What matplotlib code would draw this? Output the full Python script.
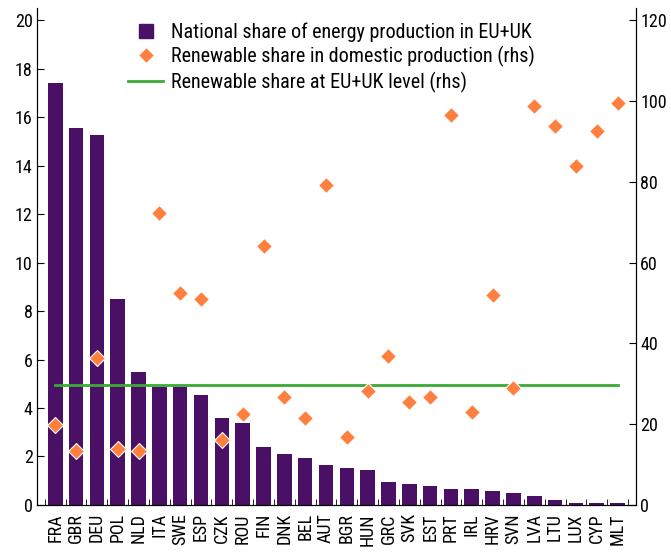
import matplotlib
matplotlib.use("Agg")
import matplotlib.pyplot as plt
from matplotlib.lines import Line2D
import numpy as np

plt.rcParams['font.family'] = ['Liberation Sans Narrow', 'DejaVu Sans Condensed',
                               'Roboto Condensed', 'Liberation Sans']
plt.rcParams['font.stretch'] = 'condensed'

countries = ["FRA", "GBR", "DEU", "POL", "NLD", "ITA", "SWE", "ESP", "CZK", "ROU",
             "FIN", "DNK", "BEL", "AUT", "BGR", "HUN", "GRC", "SVK", "EST", "PRT",
             "IRL", "HRV", "SVN", "LVA", "LTU", "LUX", "CYP", "MLT"]
# national share of energy production in EU+UK (lhs)
national_share = [17.4, 15.55, 15.25, 8.5, 5.5, 4.85, 4.85, 4.55, 3.6, 3.4,
                  2.4, 2.1, 1.95, 1.65, 1.53, 1.45, 0.95, 0.87, 0.79, 0.66,
                  0.66, 0.58, 0.5, 0.37, 0.2, 0.08, 0.08, 0.08]
# renewable share in domestic production (rhs)
renewable_share = [19.7, 13.3, 36.4, 13.9, 13.3, 72.3, 52.6, 51.0, 16.1, 22.6,
                   64.2, 26.6, 21.5, 79.3, 16.8, 28.3, 37.0, 25.5, 26.6, 96.6,
                   23.1, 52.1, 28.9, 98.9, 93.8, 83.9, 92.6, 99.6]
# renewable share at EU+UK level (rhs)
eu_level = 29.7

labels = ["National share of energy production in EU+UK",
          "Renewable share in domestic production (rhs)",
          "Renewable share at EU+UK level (rhs)"]

purple = "#4a1065"
orange = "#ff7f3f"
green = "#3aaa35"

x = np.arange(len(countries))

fig, ax = plt.subplots(figsize=(6.71, 5.53), dpi=100)
fig.subplots_adjust(left=0.055, right=0.948, bottom=0.087, top=0.985)

ax.bar(x, national_share, width=0.7, color=purple, zorder=2)
ax.set_xlim(-0.88, len(countries) - 1 + 0.89)
ax.set_ylim(0, 20.5)
ax.set_yticks(range(0, 21, 2))
ax.set_xticks(x)
ax.set_xticklabels(countries, rotation=90, fontsize=13)
ax.set_xticks(np.arange(-0.5, len(countries), 1), minor=True)
ax.tick_params(axis="x", which="major", length=0, pad=6)
ax.tick_params(axis="x", which="minor", direction="in", length=4)
ax.tick_params(axis="y", direction="in", length=5, labelsize=13, pad=3)
ax.spines["top"].set_visible(False)

ax2 = ax.twinx()
ax2.set_ylim(0, 123)
ax2.set_yticks(range(0, 121, 20))
ax2.tick_params(axis="y", direction="in", length=5, labelsize=13, pad=3)
ax2.spines["top"].set_visible(False)
line, = ax2.plot([x[0], x[-1]], [eu_level, eu_level], color=green, lw=2, zorder=2)
pts, = ax2.plot(x, renewable_share, "D", color=orange, markersize=8,
                markeredgecolor="white", markeredgewidth=0.8, linestyle="none", zorder=3)

# legend handles (square for the bars)
sq = Line2D([], [], marker="s", color=purple, linestyle="none", markersize=10)
dm = Line2D([], [], marker="D", color=orange, linestyle="none", markersize=8,
            markeredgecolor="white", markeredgewidth=0.8)
ax2.legend([sq, dm, line], labels, loc="upper left", bbox_to_anchor=(0.152, 0.972),
           frameon=False, fontsize=14.5, handlelength=1.75, handletextpad=0.4,
           labelspacing=0.22, borderaxespad=0, borderpad=0)

fig.savefig("out.png")
